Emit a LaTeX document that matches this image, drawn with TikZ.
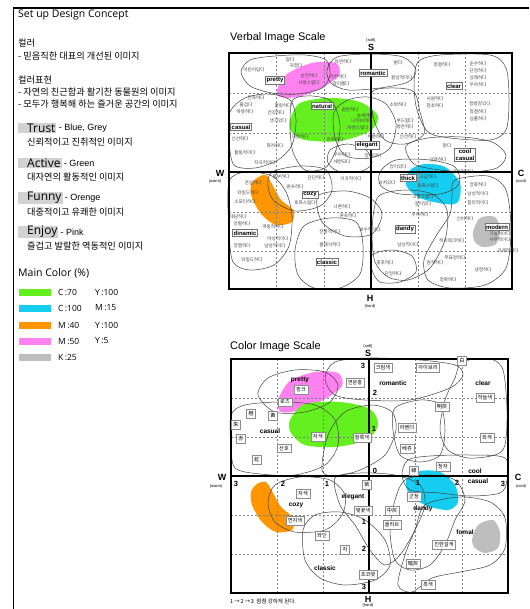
\documentclass[tikz,border=0pt]{standalone}
\usepackage{fontspec}
\setmainfont{Open Sans}
\setsansfont{Liberation Sans}
\newfontfamily\kor{Noto Sans CJK KR}
\usetikzlibrary{positioning}

\definecolor{cgreen}{RGB}{100,240,30}
\definecolor{ccyan}{RGB}{20,205,240}
\definecolor{corange}{RGB}{255,150,0}
\definecolor{cpink}{RGB}{255,130,240}
\definecolor{cgrey}{RGB}{190,190,190}
\definecolor{tagback}{RGB}{210,210,210}

\tikzset{
  heading/.style={anchor=west, inner sep=0pt, font=\fontsize{10.5}{12}\selectfont},
  kline/.style={anchor=west, inner sep=0pt, font=\kor\fontsize{9.2}{10}\selectfont},
  keyword/.style={anchor=west, inner ysep=0.5pt, inner xsep=1pt, fill=tagback, font=\fontsize{12}{13}\selectfont},
  keynote/.style={anchor=west, inner sep=0pt, font=\sffamily\fontsize{9}{10}\selectfont},
  swatch/.style={minimum width=32pt, minimum height=7pt, inner sep=0pt, anchor=west},
  legendtext/.style={anchor=west, inner sep=0pt, font=\fontsize{8.5}{9}\selectfont},
  scaletitle/.style={anchor=west, inner sep=0pt, font=\sffamily\fontsize{11}{12}\selectfont},
  pole/.style={inner sep=0pt, font=\sffamily\bfseries\fontsize{9}{10}\selectfont},
  polenote/.style={inner sep=0pt, font=\sffamily\fontsize{4}{5}\selectfont},
  chartframe/.style={line width=1.2pt},
  centreaxis/.style={line width=1.5pt},
  gridline/.style={gray, line width=0.5pt, dash pattern=on 2pt off 2pt},
  blob/.style={black!75, line width=0.5pt},
  word/.style={inner sep=0pt, font=\kor\fontsize{4.6}{5}\selectfont, text=black!75},
  tag/.style={draw=black!55, fill=white, inner sep=1.2pt, align=center, font=\sffamily\bfseries\fontsize{6}{6.5}\selectfont},
  chip/.style={draw=black!45, fill=white, inner sep=2pt, font=\kor\fontsize{5.2}{5.5}\selectfont},
  mood/.style={inner sep=0pt, font=\sffamily\bfseries\fontsize{6.5}{7}\selectfont},
  scalenum/.style={inner sep=0pt, font=\sffamily\bfseries\fontsize{7.5}{8}\selectfont},
}

\begin{document}
\begin{tikzpicture}[x=1pt,y=-1pt]
\useasboundingbox (0,0) rectangle (529,609);

% Left panel
\draw[line width=1.5pt] (529,8) -- (13.5,8) -- (13.5,609);
\node[heading] (concept) at (18,15) {Set up Design Concept};
\node[kline] (colour) at (18,43) {컬러};
\node[kline] (colourtxt) at (18,56) {- 믿음직한 대표의 개선된 이미지};
\node[kline] (expr) at (18,80) {컬러표현};
\node[kline] (exprone) at (18,92) {- 자연의 친근함과 활기찬 동물원의 이미지};
\node[kline] (exprtwo) at (18,104) {- 모두가 행복해 하는 즐거운 공간의 이미지};

\node[keyword] (trust) at (18,128) {\hspace{8pt}Trust};
\node[keynote, right=2pt of trust] (trustnote) {- Blue, Grey};
\node[kline] (trusttxt) at (27,142) {신뢰적이고 진취적인 이미지};
\node[keyword] (active) at (18,163) {\hspace{8pt}Active};
\node[keynote, right=2pt of active] (activenote) {- Green};
\node[kline] (activetxt) at (27,177) {대자연의 활동적인 이미지};
\node[keyword] (funny) at (18,198) {\hspace{8pt}Funny};
\node[keynote, right=2pt of funny] (funnynote) {- Orenge};
\node[kline] (funnytxt) at (27,212) {대중적이고 유쾌한 이미지};
\node[keyword] (enjoy) at (18,232) {\hspace{8pt}Enjoy};
\node[keynote, right=2pt of enjoy] (enjoynote) {- Pink};
\node[kline] (enjoytxt) at (27,246) {즐겁고 발랄한 역동적인 이미지};

\node[heading] (maincolour) at (18,273) {Main Color (\%)};
\foreach \c/\y/\a/\b [count=\n] in {cgreen/292/C\,:70/Y\,:100, ccyan/308/C\,:100/M\,:15,
    corange/325/M\,:40/Y\,:100, cpink/341/M\,:50/Y\,:5, cgrey/357/K\,:25/{}} {
  \node[swatch, fill=\c] (sw\n) at (19,\y) {};
  \node[legendtext] (swa\n) at (58,\y) {\a};
  \node[legendtext] (swb\n) at (95,\y) {\b};
}

% Verbal image scale
\node[scaletitle] (vtitle) at (230,38) {Verbal Image Scale};

% Filling colour areas
\fill[cpink] plot[smooth cycle] coordinates {(277,90) (287,74) (312,63) (336,63) (339,75) (322,88) (298,97) (280,97)};
\fill[cgreen] plot[smooth cycle] coordinates {(290,120) (300,103) (330,98) (360,102) (378,116) (370,131) (340,141) (305,140) (291,131)};
\fill[corange] plot[smooth cycle] coordinates {(257,178) (266,175) (273,186) (281,200) (293,210) (292,222) (276,225) (262,215) (252,198) (251,185)};
\fill[ccyan] plot[smooth cycle] coordinates {(410,170) (425,164) (445,167) (460,183) (458,202) (445,204) (420,198) (406,185)};
\fill[cgrey] plot[smooth cycle] coordinates {(473,232) (480,218) (495,217) (500,230) (496,244) (483,247) (475,242)};

% Drawing grid
\foreach \gx in {276,324,418,465} \draw[gridline] (\gx,53) -- (\gx,289);
\foreach \gy in {93,133,212,251} \draw[gridline] (229,\gy) -- (512,\gy);

% Drawing image areas
\foreach \pts in {
  {(241,72) (250,60) (275,56) (305,55) (326,60) (330,75) (322,88) (298,94) (272,93) (250,86)},
  {(327,70) (337,57) (370,54) (403,57) (416,70) (408,82) (380,88) (348,90) (331,83)},
  {(418,62) (440,55) (490,55) (506,68) (509,100) (506,130) (490,140) (450,138) (428,132) (417,110) (414,85)},
  {(230,112) (245,98) (268,94) (290,100) (296,120) (292,145) (278,160) (255,168) (234,165) (229,140)},
  {(293,100) (312,96) (332,102) (340,125) (336,150) (325,168) (305,170) (293,152) (290,125)},
  {(334,112) (348,100) (368,97) (386,104) (396,124) (390,148) (370,158) (346,156) (335,138)},
  {(372,92) (395,88) (414,92) (420,112) (424,134) (405,144) (385,140) (374,120)},
  {(406,146) (428,138) (462,137) (492,142) (506,155) (497,168) (470,172) (440,170) (414,164)},
  {(330,150) (347,144) (366,150) (372,163) (362,171) (340,172) (328,163)},
  {(380,172) (396,160) (430,160) (455,167) (459,184) (440,194) (400,194) (381,186)},
  {(380,195) (405,190) (432,194) (447,210) (445,240) (430,268) (408,280) (388,277) (375,262) (372,235) (374,210)},
  {(455,180) (488,176) (506,190) (511,230) (506,268) (485,285) (450,288) (428,280) (424,260) (436,236) (450,214) (452,195)},
  {(272,172) (300,166) (326,170) (332,190) (320,206) (295,211) (274,201) (268,186)},
  {(229,182) (246,172) (272,176) (286,192) (292,216) (289,246) (274,265) (250,270) (233,262) (229,230)},
  {(304,226) (330,218) (356,222) (363,245) (360,274) (340,288) (314,288) (298,275) (295,250)},
  {(318,196) (346,191) (370,198) (382,214) (372,234) (345,236) (322,222)},
  {(372,255) (392,250) (412,256) (416,272) (400,282) (380,282) (372,270)}}
  \draw[blob] plot[smooth cycle] coordinates \pts;

% Drawing frame and axes
\draw[chartframe] (229,53) rectangle (512,289);
\draw[centreaxis] (371,53) -- (371,289);
\draw[centreaxis] (229,172) -- (512,172);

\node[polenote] (vsoft) at (371,40) {(soft)};
\node[pole] (vs) at (371,47) {S};
\node[pole] (vw) at (220,173) {W};
\node[polenote] (vwarm) at (215,181) {(warm)};
\node[pole] (vc) at (521,173) {C};
\node[polenote] (vcool) at (521,181) {(cool)};
\node[pole] (vh) at (370,298) {H};
\node[polenote] (vhard) at (370,306) {(hard)};

% Words
\foreach \x/\y/\t [count=\n] in {
  254/70/어린이답다, 290/60/달다, 296/66/귀엽다, 309/76/순진하다, 309/83/사랑스럽다,
  343/62/유연하다, 338/77/가련하다, 341/84/감미롭다, 256/98/친숙하다, 246/105/즐겁다,
  245/112/따뜻하다, 283/106/명랑하다, 276/113/건강하다, 278/121/생기있다, 350/110/원만하다,
  365/116/섬세하다, 362/121/나이브하다, 358/128/자연스럽다, 240/139/신선하다, 300/137/대범하다,
  335/140/온화하다, 275/146/화려하다, 245/153/활동적이다, 265/163/자극적이다, 342/155/우아하다,
  342/162/세련되다, 373/156/정취있다, 398/63/밝다, 402/78/환상적이다, 442/65/청결하다,
  478/64/순수하다, 478/71/단정하다, 478/78/상쾌하다, 478/85/우아하다, 398/105/소박하다,
  435/99/시원하다, 435/106/청초하다, 480/104/청량감있다, 478/112/청결하다, 478/119/심플하다,
  405/121/부드럽다, 405/127/평온하다, 376/137/차분하다, 408/137/신선하다, 447/146/맑다,
  438/160/산뜻하다, 398/167/정이있다, 463/172/이성적이다, 253/183/견실하다, 248/193/와일드하다,
  245/202/스포티하다, 281/177/풍부하다, 316/178/단단하다, 351/179/이국적이다, 295/187/원숙하다,
  305/203/호화스럽다, 238/217/대담하다, 242/224/강렬하다, 273/227/역동적이다, 278/239/야성적이다,
  242/246/정열하다, 275/246/남성적이다, 252/260/와일드하다, 330/232/전통적이다, 330/245/클래식하다,
  342/207/나른하다, 348/216/원숙하다, 370/230/보수적이다, 387/183/사치있다, 428/177/고급하다,
  428/186/호화스럽다, 423/197/고풍스럽다, 423/204/깊이있다, 420/215/우아하다, 478/185/정중하다,
  478/194/남성적이다, 478/203/합리적이다, 465/219/신비하다, 500/234/기능적이다, 500/240/사무적이다,
  452/241/하이테크하다, 408/245/남성적이다, 508/251/기계적이다, 455/258/무표정하다, 385/263/중후하다,
  435/263/엄격하다, 393/274/단정하다, 483/270/냉정하다, 448/280/정확하다}
  \node[word] (vword\n) at (\x,\y) {\t};

\foreach \x/\y/\t [count=\n] in {275/80/pretty, 373/73/romantic, 454/86/clear, 322/106/natural,
  241/127/casual, 367/145/elegant, 465/155/cool\\casual, 408/178/thick, 310/195/cozy,
  245/233/dinamic, 327/262/classic, 405/229/dandy, 497/227/modern}
  \node[tag] (vtag\n) at (\x,\y) {\t};

% Color image scale
\node[scaletitle] (ctitle) at (230,347) {Color Image Scale};

% Filling colour areas
\fill[cpink] plot[smooth cycle] coordinates {(278,400) (290,381) (315,372) (338,373) (342,386) (325,399) (300,410) (281,412)};
\fill[cgreen] plot[smooth cycle] coordinates {(290,420) (305,404) (340,402) (370,409) (378,425) (366,440) (335,447) (305,445) (291,433)};
\fill[corange] plot[smooth cycle] coordinates {(257,484) (266,482) (273,493) (281,507) (293,518) (292,530) (276,532) (262,522) (252,505) (251,492)};
\fill[ccyan] plot[smooth cycle] coordinates {(407,478) (420,471) (440,472) (455,485) (458,502) (448,510) (425,505) (408,492)};
\fill[cgrey] plot[smooth cycle] coordinates {(472,540) (478,525) (493,520) (500,532) (498,548) (485,553) (475,548)};

% Drawing grid
\foreach \gx in {277,323,415,462} \draw[gridline] (\gx,359) -- (\gx,593);
\foreach \gy in {398,437,515,554} \draw[gridline] (231,\gy) -- (508,\gy);

% Drawing image areas
\foreach \pts in {
  {(258,395) (268,378) (295,370) (325,372) (338,385) (330,402) (305,412) (275,412)},
  {(325,378) (335,362) (370,358) (420,360) (455,365) (463,375) (450,388) (410,400) (365,400) (335,395)},
  {(462,362) (490,359) (503,370) (507,410) (505,445) (495,455) (468,458) (448,450) (440,430) (445,400) (455,378)},
  {(231,415) (245,405) (280,402) (315,405) (335,420) (338,445) (325,465) (295,475) (260,474) (235,468) (231,445)},
  {(322,470) (328,435) (345,412) (372,405) (392,412) (396,430) (385,455) (360,470) (335,476)},
  {(395,408) (420,400) (440,405) (445,430) (440,455) (420,462) (400,455) (393,430)},
  {(402,475) (408,460) (430,456) (470,455) (505,458) (507,480) (500,493) (470,496) (440,493) (410,490)},
  {(268,503) (275,485) (300,477) (330,480) (345,495) (342,515) (325,530) (295,532) (275,522)},
  {(335,478) (360,473) (395,475) (420,485) (425,505) (415,530) (400,555) (385,565) (370,550) (355,525) (340,505)},
  {(405,480) (430,475) (455,480) (465,500) (455,520) (445,545) (430,565) (410,570) (395,560) (390,530) (395,500)},
  {(303,530) (315,515) (340,512) (365,520) (385,540) (390,565) (375,580) (345,585) (320,578) (305,560)},
  {(425,505) (460,497) (490,502) (505,518) (505,548) (490,565) (460,572) (432,578) (412,592) (398,585) (405,555) (415,530)}}
  \draw[blob] plot[smooth cycle] coordinates \pts;

% Drawing frame and axes
\draw[chartframe] (231,359) rectangle (508,593);
\draw[centreaxis] (369,359) -- (369,593);
\draw[centreaxis] (231,476) -- (508,476);

\node[polenote] (csoft) at (368,346) {(soft)};
\node[pole] (cs) at (368,353) {S};
\node[pole] (cw) at (222,477) {W};
\node[polenote] (cwarm) at (216,486) {(warm)};
\node[pole] (cc) at (518,477) {C};
\node[polenote] (ccool) at (521,486) {(cool)};
\node[pole] (ch) at (368,599) {H};
\node[polenote] (chard) at (368,605.5) {(hard)};

% Scale numbers
\foreach \x/\y/\t [count=\n] in {363/366/3, 375/393/2, 374/429/1, 375/471/0, 364/522/1, 364/549/2,
  364/587/3, 236/484/3, 283/484/2, 327/484/1, 418/483/1, 457/483/2, 503/484/3}
  \node[scalenum] (num\n) at (\x,\y) {\t};

% Colour names
\foreach \x/\y/\t [count=\n] in {383/368/크림색, 428/368/아이보리, 462/361/白, 301/390/핑크,
  355/383/연분홍, 285/402/로즈, 442/407/明灰, 485/398/하늘색, 251/414/橙, 273/416/黃,
  236/425/朱, 241/439/赤, 407/428/라벤더, 487/438/회색, 318/437/자색, 362/438/황록색,
  284/448/산호, 407/449/베쥬, 257/460/紅, 414/471/綠, 443/467/청자, 367/485/紫,
  303/494/자색, 414/497/군청, 363/511/벚꽃색, 392/511/中灰, 295/521/연지색, 392/525/올리브,
  322/536/와인, 444/545/진한갈색, 345/550/차, 413/564/暗灰, 368/575/초코렛, 428/585/흑색}
  \node[chip] (chip\n) at (\x,\y) {\t};

\foreach \x/\y/\t [count=\n] in {300/380/pretty, 393/383/romantic, 483/383/clear, 270/431/casual,
  475/471/cool, 478/481/casual, 353/497/elegant, 296/505/cozy, 423/509/dandy, 465/532/fomal,
  325/568/classic}
  \node[mood] (mood\n) at (\x,\y) {\t};

\node[anchor=west, inner sep=0pt, font=\kor\fontsize{5.5}{6}\selectfont] (note) at (230,601) {1\,→\,2\,→\,3 \ 점점 강하게 된다.};
\end{tikzpicture}
\end{document}
